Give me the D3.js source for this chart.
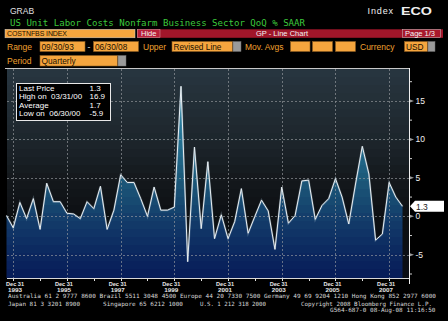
<!DOCTYPE html>
<meta charset="utf-8">
<style>
body { margin: 0; background: #000; }
svg { display: block; font-family: 'Liberation Sans', Arial, sans-serif; }
.mono { font-family: 'DejaVu Sans Mono', 'Liberation Mono', monospace; }
</style>
<body>
<div id="chart"></div>
<script src="https://d3js.org/d3.v7.min.js"></script>
<script>
// quarter end dates and QoQ % SAAR values
var quarters = [
  "1993-09-30", "1993-12-31",
  "1994-03-31", "1994-06-30", "1994-09-30", "1994-12-31",
  "1995-03-31", "1995-06-30", "1995-09-30", "1995-12-31",
  "1996-03-31", "1996-06-30", "1996-09-30", "1996-12-31",
  "1997-03-31", "1997-06-30", "1997-09-30", "1997-12-31",
  "1998-03-31", "1998-06-30", "1998-09-30", "1998-12-31",
  "1999-03-31", "1999-06-30", "1999-09-30", "1999-12-31",
  "2000-03-31", "2000-06-30", "2000-09-30", "2000-12-31",
  "2001-03-31", "2001-06-30", "2001-09-30", "2001-12-31",
  "2002-03-31", "2002-06-30", "2002-09-30", "2002-12-31",
  "2003-03-31", "2003-06-30", "2003-09-30", "2003-12-31",
  "2004-03-31", "2004-06-30", "2004-09-30", "2004-12-31",
  "2005-03-31", "2005-06-30", "2005-09-30", "2005-12-31",
  "2006-03-31", "2006-06-30", "2006-09-30", "2006-12-31",
  "2007-03-31", "2007-06-30", "2007-09-30", "2007-12-31",
  "2008-03-31", "2008-06-30"
];
var values = [
  0.1, -1.5,
  1.8, -0.3, 2.3, -1.7,
  4.3, 1.9, 1.9, 0.4,
  0.3, -0.3, 1.9, 1.0,
  3.9, -1.7, 0.8, 5.4,
  4.4, 4.4, 2.3, 0.0,
  3.8, 0.8, 0.8, 1.2,
  16.9, -5.9, 9.0, -1.6,
  7.1, -2.9, 0.2, -2.9,
  -0.7, 3.6, -2.2, 0.0,
  2.1, 0.7, -4.3, 3.8,
  -0.9, 0.1, 4.6, 4.7,
  -0.4, 1.4, 2.3, 4.9,
  2.5, -1.0, 4.2, 9.1,
  5.5, -3.1, -2.3, 4.4,
  2.5, 1.3
];
var yTicks = [15, 10, 5, 0, -5];
var yMinorTicks = [17.5, 12.5, 7.5, 2.5, -2.5, -7.5];
var labelYears = ["1993", "1995", "1997", "1999", "2001", "2003", "2005", "2007"];
var allYears = ["1993", "1994", "1995", "1996", "1997", "1998", "1999", "2000",
                "2001", "2002", "2003", "2004", "2005", "2006", "2007"];
var statLabels = ["Last Price", "High on  03/31/00", "Average", "Low on  06/30/00"];
var statValues = ["1.3", "16.9", "1.7", "-5.9"];
var lastValue = "1.3";

var width = 448, height = 321;
var plot = {left: 7, right: 409, top: 69, bottom: 278};

var parse = d3.timeParse("%Y-%m-%d");
var data = quarters.map(function(q, i) { return {date: parse(q), value: values[i]}; });

var x = d3.scaleTime()
    .domain([parse("1993-09-30"), parse("2008-06-30")])
    .range([6.5, 402.5]);
var y = d3.scaleLinear()
    .domain([-8.02, 19.15])
    .range([plot.bottom, plot.top]);

var svg = d3.select("#chart").append("svg")
    .attr("width", width)
    .attr("height", height);

svg.append("rect").attr("width", width).attr("height", height).attr("fill", "#000");

var defs = svg.append("defs");

// stepped vertical gradient, Bloomberg-style banding
function bandGradient(id, stops) {
  var g = defs.append("linearGradient").attr("id", id)
      .attr("gradientUnits", "userSpaceOnUse")
      .attr("x1", 0).attr("x2", 0).attr("y1", plot.top).attr("y2", plot.bottom);
  var cy = d3.scaleLinear().domain(stops.map(function(s) { return s[0]; }))
      .range(stops.map(function(s) { return s[1]; })).clamp(true);
  var step = 8, span = plot.bottom - plot.top;
  for (var yy = plot.top; yy < plot.bottom; yy += step) {
    var c = cy(yy + step / 2);
    g.append("stop").attr("offset", (yy - plot.top) / span).attr("stop-color", c);
    g.append("stop").attr("offset", Math.min(1, (yy + step - plot.top) / span)).attr("stop-color", c);
  }
}
bandGradient("bg", [[69, "#283640"], [140, "#1d262c"], [180, "#14181c"], [215, "#0d1013"], [278, "#0b0e14"]]);
bandGradient("fill", [[80, "#3192b2"], [140, "#237192"], [178, "#1c5a7a"], [216, "#143f6b"], [250, "#0c2960"], [278, "#071c58"]]);

// plot background
svg.append("rect")
    .attr("x", plot.left).attr("y", plot.top)
    .attr("width", plot.right - plot.left).attr("height", plot.bottom - plot.top)
    .attr("fill", "url(#bg)");

// area under line
var area = d3.area()
    .x(function(d) { return x(d.date); })
    .y0(plot.bottom)
    .y1(function(d) { return y(d.value); });
svg.append("path").datum(data)
    .attr("d", area)
    .attr("fill", "url(#fill)");

// gridlines
var grid = svg.append("g")
    .attr("stroke", "#9a9ea2").attr("stroke-width", 0.8)
    .attr("stroke-dasharray", "2,2").attr("opacity", 0.8);
grid.selectAll(".h").data(yTicks).enter().append("line")
    .attr("x1", plot.left).attr("x2", plot.right)
    .attr("y1", function(d) { return Math.round(y(d)) + 0.5; })
    .attr("y2", function(d) { return Math.round(y(d)) + 0.5; });
grid.selectAll(".v").data(labelYears).enter().append("line")
    .attr("x1", function(d) { return Math.round(x(parse(d + "-12-31"))) + 0.5; })
    .attr("x2", function(d) { return Math.round(x(parse(d + "-12-31"))) + 0.5; })
    .attr("y1", plot.top).attr("y2", plot.bottom);

// line
var line = d3.line()
    .x(function(d) { return x(d.date); })
    .y(function(d) { return y(d.value); });
svg.append("path").datum(data)
    .attr("d", line)
    .attr("fill", "none")
    .attr("stroke", "#9fb8c8").attr("stroke-width", 2).attr("opacity", 0.35);
svg.append("path").datum(data)
    .attr("d", line)
    .attr("fill", "none")
    .attr("stroke", "#e8eef2").attr("stroke-width", 1);

// frame
svg.append("line").attr("x1", 5).attr("x2", plot.right).attr("y1", 68.5).attr("y2", 68.5)
    .attr("stroke", "#c8c8c8");
svg.append("line").attr("x1", plot.right + 0.5).attr("x2", plot.right + 0.5)
    .attr("y1", 68).attr("y2", 284).attr("stroke", "#f0f0f0");
svg.append("line").attr("x1", plot.left).attr("x2", plot.right)
    .attr("y1", plot.bottom + 0.5).attr("y2", plot.bottom + 0.5).attr("stroke", "#d8d8d8");

// right axis
var ya = svg.append("g");
ya.selectAll(".maj").data(yTicks).enter().append("path")
    .attr("d", function(d) { var yy = y(d); return "M410," + (yy - 1.5) + "L414," + yy + "L410," + (yy + 1.5) + "Z"; })
    .attr("fill", "#9a9a9a");
ya.selectAll(".min").data(yMinorTicks).enter().append("line")
    .attr("x1", 410).attr("x2", 412)
    .attr("y1", function(d) { return y(d); }).attr("y2", function(d) { return y(d); })
    .attr("stroke", "#cfcfcf");
ya.selectAll("text").data(yTicks).enter().append("text")
    .attr("x", 415.5).attr("y", function(d) { return y(d) + 3; })
    .attr("fill", "#f0f0f0").attr("font-size", 8.5)
    .text(function(d) { return d; });

// last price tag
var ly = y(values[values.length - 1]);
svg.append("path")
    .attr("d", "M410," + ly + "L415," + (ly - 5.5) + "L444," + (ly - 5.5) + "L444," + (ly + 5.5) + "L415," + (ly + 5.5) + "Z")
    .attr("fill", "#ffffff");
svg.append("text").attr("x", 416).attr("y", ly + 3.2)
    .attr("fill", "#202020").attr("font-size", 8.5).text(lastValue);

// bottom axis
function labelX(d) { return Math.max(15, x(parse(d + "-12-31")) - 3); }
var xa = svg.append("g");
xa.selectAll("line").data(allYears).enter().append("line")
    .attr("x1", function(d) { return Math.round(x(parse(d + "-12-31"))) + 0.5; })
    .attr("x2", function(d) { return Math.round(x(parse(d + "-12-31"))) + 0.5; })
    .attr("y1", plot.bottom + 1).attr("y2", plot.bottom + 3)
    .attr("stroke", "#e0e0e0");
xa.selectAll(".l1").data(labelYears).enter().append("text")
    .attr("x", labelX)
    .attr("y", 285.6).attr("text-anchor", "middle")
    .attr("fill", "#e8e8e8").attr("font-size", 5.8).attr("font-weight", "bold")
    .attr("textLength", 18).attr("lengthAdjust", "spacingAndGlyphs")
    .text("Dec 31");
xa.selectAll(".l2").data(labelYears).enter().append("text")
    .attr("x", labelX)
    .attr("y", 291.7).attr("text-anchor", "middle")
    .attr("fill", "#e8e8e8").attr("font-size", 5.8).attr("font-weight", "bold")
    .attr("textLength", 14).attr("lengthAdjust", "spacingAndGlyphs")
    .text(function(d) { return d; });

// stats legend
var lg = svg.append("g");
lg.append("rect").attr("x", 16.5).attr("y", 83.5).attr("width", 94).attr("height", 37)
    .attr("fill", "#000").attr("stroke", "#e8e8e8");
lg.selectAll(".lab").data(statLabels).enter().append("text")
    .attr("x", 19).attr("y", function(d, i) { return 91 + i * 8.3; })
    .attr("fill", "#ffffff").attr("font-size", 8).text(function(d) { return d; })
    .attr("xml:space", "preserve");
lg.selectAll(".val").data(statValues).enter().append("text")
    .attr("x", 89.5)
    .attr("y", function(d, i) { return 91 + i * 8.3; })
    .attr("fill", "#ffffff").attr("font-size", 8).text(function(d) { return d; });

// header
var hd = svg.append("g");
hd.append("text").attr("x", 10).attr("y", 14).attr("fill", "#e0e0e0")
    .attr("font-size", 8.5).text("GRAB");
hd.append("text").attr("x", 367.5).attr("y", 14).attr("fill", "#f0f0f0")
    .attr("font-size", 9).attr("textLength", 25.5).text("Index");
hd.append("text").attr("x", 401).attr("y", 14.5).attr("fill", "#f0f0f0")
    .attr("font-size", 10).attr("font-weight", "bold").attr("textLength", 31)
    .attr("lengthAdjust", "spacingAndGlyphs").text("ECO");
hd.append("text").attr("class", "mono").attr("x", 10).attr("y", 25.5).attr("fill", "#3cc83c")
    .attr("font-size", 9.5).attr("textLength", 295).attr("lengthAdjust", "spacingAndGlyphs")
    .text("US Unit Labor Costs Nonfarm Business Sector QoQ % SAAR");

var orange = "#f5a53e", amberText = "#f0a030";
function box(x0, y0, w, h, label, handle) {
  hd.append("rect").attr("x", x0 + 0.5).attr("y", y0 + 0.5).attr("width", w - 1).attr("height", h - 1)
      .attr("fill", orange).attr("stroke", "#8a5a20").attr("stroke-width", 0.6);
  if (handle) {
    hd.append("rect").attr("x", x0 + w).attr("y", y0 + 0.5).attr("width", handle).attr("height", h - 1)
        .attr("fill", "#9a9a9a").attr("stroke", "#6a6a6a").attr("stroke-width", 0.5);
  }
  if (label) {
    hd.append("text").attr("x", x0 + 2).attr("y", y0 + h - 2.5).attr("fill", "#1a1000")
        .attr("font-size", 8.3).text(label);
  }
}
function lbl(x0, y0, t) {
  hd.append("text").attr("x", x0).attr("y", y0).attr("fill", amberText)
      .attr("font-size", 8.5).text(t);
}

// row: security + red bar
hd.append("rect").attr("x", 5).attr("y", 29.3).attr("width", 130).attr("height", 8.5)
    .attr("fill", orange).attr("stroke", "#d0d0d0").attr("stroke-width", 0.5);
hd.append("text").attr("x", 7).attr("y", 36.3).attr("fill", "#1a1000")
    .attr("font-size", 7).attr("textLength", 60).text("COSTNFBS INDEX");
hd.append("rect").attr("x", 137).attr("y", 29.3).attr("width", 306).attr("height", 8.5)
    .attr("fill", "#a0162a");
hd.append("rect").attr("x", 137.5).attr("y", 29.5).attr("width", 22.5).attr("height", 8)
    .attr("fill", "#b8203a").attr("stroke", "#d8a0a8").attr("stroke-width", 0.5);
hd.append("text").attr("x", 141).attr("y", 36.3).attr("fill", "#f4f4f4")
    .attr("font-size", 7.5).text("Hide");
hd.append("text").attr("x", 282).attr("y", 36.3).attr("fill", "#f4f4f4").attr("text-anchor", "middle")
    .attr("font-size", 7.5).text("GP - Line Chart");
hd.append("rect").attr("x", 402.5).attr("y", 29.5).attr("width", 38).attr("height", 8)
    .attr("fill", "#a8182c").attr("stroke", "#c8c8c8").attr("stroke-width", 0.5);
hd.append("text").attr("x", 405).attr("y", 36.3).attr("fill", "#f4f4f4")
    .attr("font-size", 7.5).text("Page 1/3");

// row: range
lbl(7, 50, "Range");
box(39.5, 41, 46, 11, "09/30/93");
hd.append("text").attr("x", 87.5).attr("y", 50).attr("fill", "#e0e0e0").attr("font-size", 8.5).text("-");
box(93, 41, 46, 11, "06/30/08");
lbl(143, 50, "Upper");
box(171.5, 41, 61.5, 11, "Revised Line", 8);
lbl(245, 50, "Mov. Avgs");
box(290, 41, 20.5, 11, "");
box(312, 41, 21, 11, "");
box(335, 41, 21, 11, "");
lbl(360, 50, "Currency");
box(404, 41, 24, 11, "USD", 7);

// row: period
lbl(7, 64, "Period");
box(39.5, 55, 78.5, 11.5, "Quarterly", 8);

// footer
var ft = svg.append("g").attr("class", "mono").attr("fill", "#d8d8d8").attr("font-size", 5.8);
ft.append("text").attr("x", 8).attr("y", 297.8).attr("textLength", 428).attr("lengthAdjust", "spacingAndGlyphs")
    .text("Australia 61 2 9777 8600 Brazil 5511 3048 4500 Europe 44 20 7330 7500 Germany 49 69 9204 1210 Hong Kong 852 2977 6000");
ft.append("text").attr("x", 8).attr("y", 305.5).attr("textLength", 72).attr("lengthAdjust", "spacingAndGlyphs")
    .text("Japan 81 3 3201 8900");
ft.append("text").attr("x", 103).attr("y", 305.5).attr("textLength", 80).attr("lengthAdjust", "spacingAndGlyphs")
    .text("Singapore 65 6212 1000");
ft.append("text").attr("x", 200).attr("y", 305.5).attr("textLength", 66).attr("lengthAdjust", "spacingAndGlyphs")
    .text("U.S. 1 212 318 2000");
ft.append("text").attr("x", 301).attr("y", 305.5).attr("textLength", 131).attr("lengthAdjust", "spacingAndGlyphs")
    .text("Copyright 2008 Bloomberg Finance L.P.");
ft.append("text").attr("x", 330).attr("y", 311.8).attr("textLength", 105.5).attr("lengthAdjust", "spacingAndGlyphs")
    .text("G564-687-0 08-Aug-08 11:16:50");
</script>
</body>
